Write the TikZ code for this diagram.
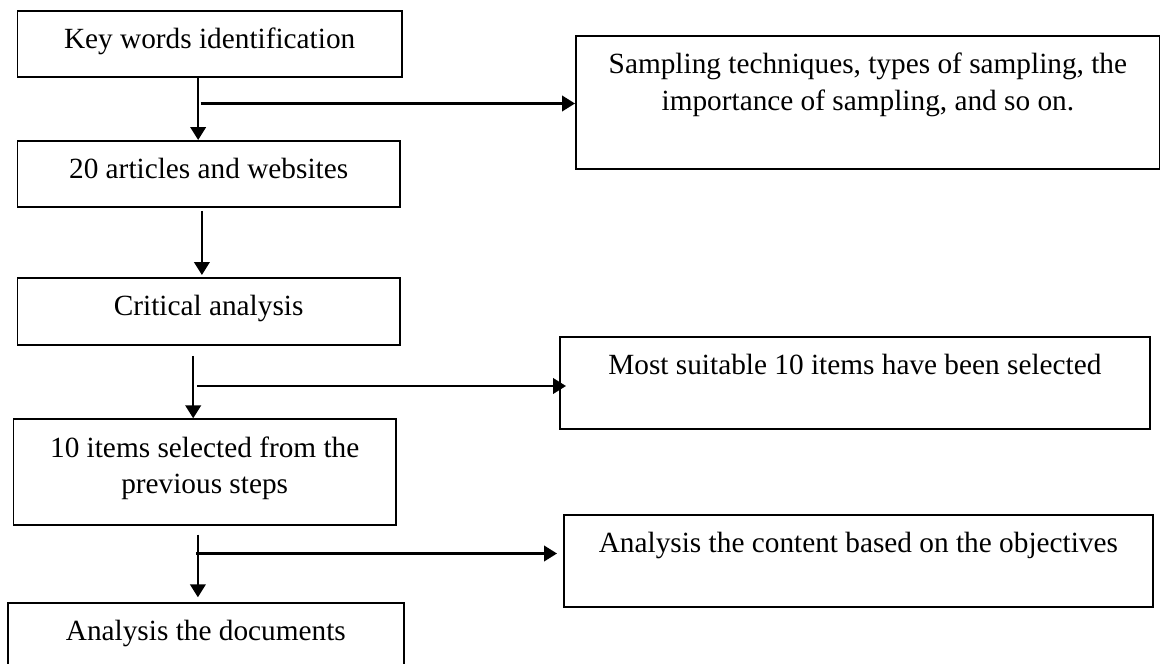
\documentclass[tikz,border=0pt]{standalone}
\usepackage{fontspec}
\setmainfont{Liberation Serif}
\usetikzlibrary{arrows.meta}
\newcommand{\boxfont}{\fontsize{29.3}{36.7}\selectfont}
\tikzstyle{stepbox} = [rectangle, draw, line width=1.8pt, anchor=north west, inner xsep=0pt, inner ysep=0pt, text height=38pt, align=flush center, font=\boxfont]
\tikzset{flow/.style = {
    line width=2.4pt,
    -{Triangle[length=13pt, width=15.5pt]},
  }
}

\begin{document}
\begin{tikzpicture}[x=1pt, y=-1pt]
        \useasboundingbox (0,0) rectangle (1160,664);
            % main steps
            \node[stepbox, minimum width=384.5pt, text depth=27.7pt] (b1) at (16.5, 10) {Key words identification};
            \node[stepbox, minimum width=382.5pt, text depth=28pt] (b2) at (16.5, 140) {20 articles and websites};
            \node[stepbox, minimum width=382.5pt, text depth=29pt] (b3) at (16.5, 277) {Critical analysis};
            \node[stepbox, minimum width=382.4pt, text width=370pt, text depth=67.7pt] (b4) at (12.6, 418.3) {10 items selected from the\\ previous steps};
            \node[stepbox, minimum width=396.1pt, text depth=62pt] (b5) at (6.9, 601.7) {Analysis the documents};

            % side boxes
            \node[stepbox, minimum width=584pt, text width=570pt, text depth=95pt] (r1) at (575, 35) {Sampling techniques, types of sampling, the\\ importance of sampling, and so on.};
            \node[stepbox, minimum width=590pt, text depth=54pt] (r2) at (559, 336) {Most suitable 10 items have been selected};
            \node[stepbox, minimum width=589pt, text depth=54pt] (r3) at (563, 514) {Analysis the content based on the objectives};

            % branch points
            \coordinate (j1) at (200.7, 103.5);
            \coordinate (j3) at (197.3, 386);
            \coordinate (j4) at (196, 553.5);

            % down arrows
            \draw[flow] ([xshift=-11.5pt]b1.south) -- ([xshift=-10.5pt]b2.north);
            \draw[flow, shorten <=3pt, shorten >=2pt] ([xshift=-6.75pt]b2.south) -- ([xshift=-6.75pt]b3.north);
            \draw[flow, shorten <=10pt] ([xshift=-15.45pt]b3.south) -- ([xshift=-11.5pt]b4.north);
            \draw[flow, shorten <=8.7pt, shorten >=4.4pt] ([xshift=-6.8pt]b4.south) -- ([xshift=-7.95pt]b5.north);

            % side arrows
            \draw[flow] (j1) -- (j1 -| r1.west);
            \draw[flow, shorten >=-7pt] (j3) -- (j3 -| r2.west);
            \draw[flow, shorten >=6pt] (j4) -- (j4 -| r3.west);

          \end{tikzpicture}
\end{document}
